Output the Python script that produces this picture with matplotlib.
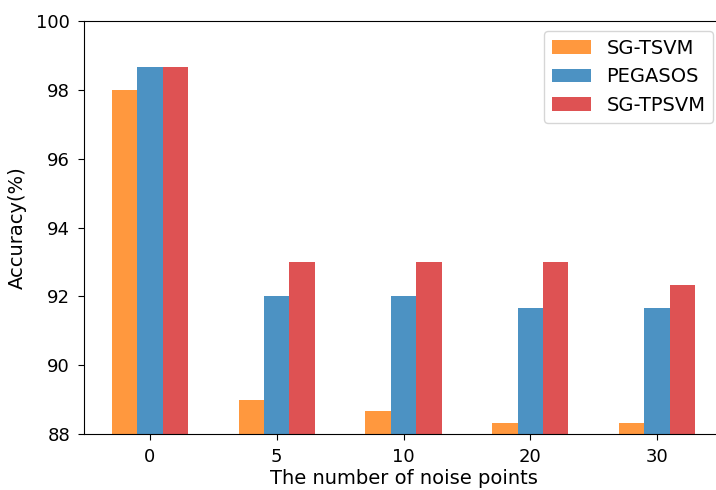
import numpy as np
import matplotlib
matplotlib.use("Agg")
import matplotlib.pyplot as plt

noise_points = ["0", "5", "10", "20", "30"]
sg_tsvm = [98.0, 89.0, 88.67, 88.33, 88.33]
pegasos = [98.67, 92.0, 92.0, 91.67, 91.67]
sg_tpsvm = [98.67, 93.0, 93.0, 93.0, 92.33]

plt.rcParams['font.size'] = 13

fig = plt.figure(figsize=(7.16, 4.9), dpi=100)
ax = fig.add_axes([84 / 716, 1 - 434 / 490, 639 / 716, 413 / 490])

x = np.arange(len(noise_points))
w = 0.2
ax.bar(x - w, sg_tsvm, w, color="tab:orange", alpha=0.8, label="SG-TSVM")
ax.bar(x, pegasos, w, color="tab:blue", alpha=0.8, label="PEGASOS")
ax.bar(x + w, sg_tpsvm, w, color="tab:red", alpha=0.8, label="SG-TPSVM")

ax.set_xticks(x)
ax.set_xticklabels(noise_points)
ax.set_xlim(-0.52, 4.52)
ax.set_ylim(88, 100)
ax.set_yticks([88, 90, 92, 94, 96, 98, 100])
ax.tick_params(labelsize=13, length=4.5, pad=5.5)
ax.set_xlabel("The number of noise points", fontsize=14, labelpad=2.5)
ax.set_ylabel("Accuracy(%)", fontsize=14, labelpad=7)
ax.legend(loc="upper right", fontsize=14)

fig.savefig("out.png", dpi=100)
